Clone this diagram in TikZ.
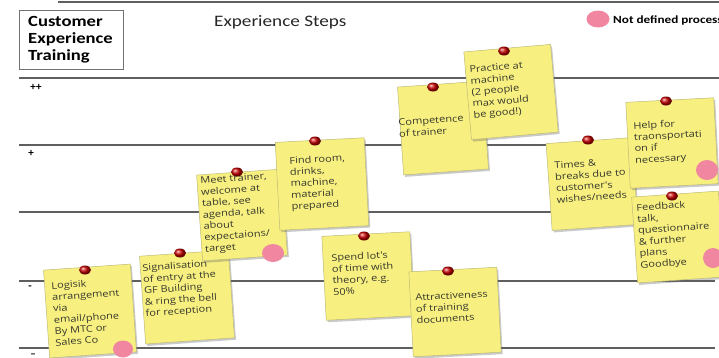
\documentclass[tikz,border=0pt]{standalone}
\usepackage{fontspec}
\setmainfont{Carlito}
\newfontfamily\hdfont{Carlito}[FakeStretch=1.2]
\newfontfamily\handfont{Open Sans}[FakeStretch=1.2]
\usetikzlibrary{shadows}
\definecolor{noteyellow}{RGB}{247,240,128}
\definecolor{notebord}{RGB}{190,186,120}
\definecolor{rulegray}{RGB}{95,95,95}
\definecolor{pinkc}{RGB}{240,134,160}
\definecolor{pinred}{RGB}{200,0,0}
\definecolor{handink}{RGB}{55,55,45}
\tikzset{
  rule/.style={draw=rulegray, line width=1.4pt},
  note/.style={fill=noteyellow, draw=notebord, line width=0.5pt, inner sep=0,
    drop shadow={shadow xshift=1.5pt, shadow yshift=-2pt, opacity=0.35, fill=black!60}},
  handtext/.style={font=\handfont\fontsize{9.2}{11.4}\selectfont, align=left,
    inner sep=0, text=handink, anchor=north west},
  pinball/.style={ball color=pinred},
  pinkdot/.style={fill=pinkc},
  lvl/.style={font=\bfseries\fontsize{11}{13}\selectfont, inner sep=0}
}
\begin{document}
\begin{tikzpicture}[x=1pt,y=-1pt]
\useasboundingbox (0,0) rectangle (719,357);
% horizontal rules
\draw[rule] (58,2) -- (719,2);
\draw[rule] (19,78) -- (719,78);
\draw[rule] (19,145) -- (715,145);
\draw[rule] (19,212) -- (715,212);
\draw[rule] (19,281) -- (715,281);
\draw[rule] (19,348) -- (715,348);
% level labels
\node[lvl] (lpp) at (36,87) {++};
\node[lvl] (lp) at (31,153) {+};
\node[lvl] (lm) at (30,288) {-};
\node[lvl] (lmm) at (33,356) {--};
% title box
\node[draw=black!55, line width=0.8pt, minimum width=104pt, minimum height=59pt, inner sep=0] (titlebox) at (71,39.5) {};
\node[anchor=west, font=\hdfont\bfseries\fontsize{15.5}{16.8}\selectfont, align=left, inner sep=0] (titletext) at (28,40) {Customer\\Experience\\Training};
\node[anchor=west, font=\hdfont\fontsize{16}{18}\selectfont, inner sep=0, text=black!85] (steps) at (214,22) {Experience Steps};
% legend
\fill[pinkdot] (598,19) ellipse [x radius=11.5, y radius=8.5];
\node[anchor=west, font=\hdfont\bfseries\fontsize{11}{13}\selectfont, inner sep=0] (legend) at (613,20) {Not defined process};

% N1
\node[note, rotate=4, minimum width=87pt, minimum height=88pt] (n1) at (90,311) {};
\node[handtext, rotate=4] (t1) at (51,282) {Logisik\\arrangement\\via\\email/phone\\By MTC or\\Sales Co};
\shade[pinball] (85,270) ellipse [x radius=6, y radius=4.5];
\fill[pinkdot] (123,349) ellipse [x radius=10, y radius=8.5];
% N2
\node[note, rotate=4, minimum width=89pt, minimum height=88pt] (n2) at (187,297) {};
\node[handtext, rotate=4] (t2) at (142,264) {Signalisation\\of entry at the\\GF Building\\\& ring the bell\\for reception};
\shade[pinball] (180,253) ellipse [x radius=6, y radius=4.5];
% N3
\node[note, rotate=4, minimum width=85pt, minimum height=86pt] (n3) at (242,215) {};
\node[handtext, rotate=4] (t3) at (200,177) {Meet trainer,\\welcome at\\table, see\\agenda, talk\\about\\expectaions/\\target};
\shade[pinball] (237,172) ellipse [x radius=6, y radius=4.5];
\fill[pinkdot] (273,253) ellipse [x radius=11, y radius=9];
% N4
\node[note, rotate=3, minimum width=89pt, minimum height=88pt] (n4) at (322,184) {};
\node[handtext, rotate=3] (t4) at (289,157) {Find room,\\drinks,\\machine,\\material\\prepared};
\shade[pinball] (315,141) ellipse [x radius=6, y radius=4.5];
% N5
\node[note, rotate=3, minimum width=88pt, minimum height=84pt] (n5) at (368,276) {};
\node[handtext, rotate=3] (t5) at (331,254) {Spend lot's\\of time with\\theory, e.g.\\50\%};
\shade[pinball] (364,236) ellipse [x radius=6, y radius=4.5];
% N6
\node[note, rotate=3, minimum width=88pt, minimum height=85pt] (n6) at (455,312) {};
\node[handtext, rotate=3] (t6) at (415,294) {Attractiveness\\of training\\documents};
\shade[pinball] (448,271) ellipse [x radius=6, y radius=4.5];
% N7
\node[note, rotate=4, minimum width=85pt, minimum height=88pt] (n7) at (443,128) {};
\node[handtext, rotate=4] (t7) at (398,119) {Competence\\of trainer};
\shade[pinball] (433,87) ellipse [x radius=6, y radius=4.5];
% N8
\node[note, rotate=5, minimum width=87pt, minimum height=88pt] (n8) at (511,92) {};
\node[handtext, rotate=5] (t8) at (469,66) {Practice at\\machine\\(2 people\\max would\\be good!)};
\shade[pinball] (504,51) ellipse [x radius=6, y radius=4.5];
% N9
\node[note, rotate=4, minimum width=86pt, minimum height=87pt] (n9) at (592,184) {};
\node[handtext, rotate=4] (t9) at (554,162) {Times \&\\breaks due to\\customer's\\wishes/needs};
\shade[pinball] (588,140) ellipse [x radius=6, y radius=4.5];
% N10
\node[note, rotate=3, minimum width=88pt, minimum height=86pt] (n10) at (672,143) {};
\node[handtext, rotate=3] (t10) at (633,122) {Help for\\traonsportati\\on if\\necessary};
\shade[pinball] (666,101) ellipse [x radius=6, y radius=4.5];
\fill[pinkdot] (707,170) ellipse [x radius=11, y radius=10];
% N11
\node[note, rotate=4, minimum width=87pt, minimum height=86pt] (n11) at (678,237) {};
\node[handtext, rotate=4] (t11) at (636,204) {Feedback\\talk,\\questionnaire\\\& further\\plans\\Goodbye};
\shade[pinball] (672,196) ellipse [x radius=6, y radius=4.5];
\fill[pinkdot] (713,258) ellipse [x radius=10, y radius=10];
\end{tikzpicture}
\end{document}
